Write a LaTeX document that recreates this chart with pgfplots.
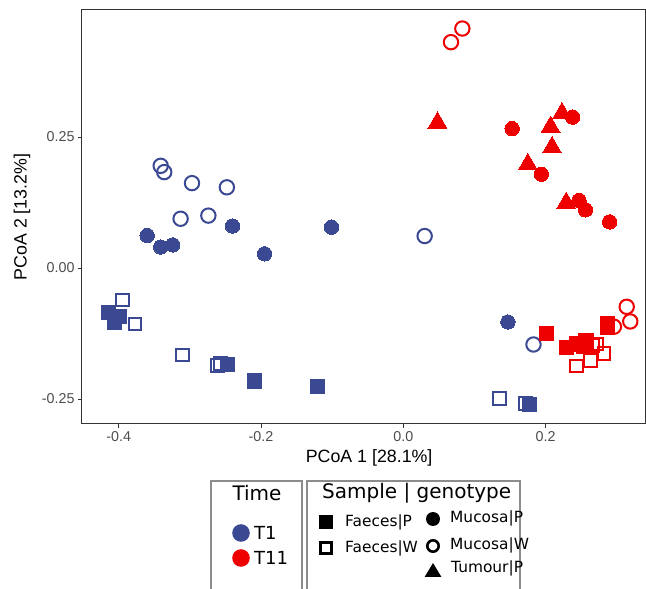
\documentclass[border=0pt]{standalone}
\usepackage{fontspec}
\setmainfont{DejaVu Sans}
\newfontfamily\axisfont{Liberation Sans}
\usepackage{pgfplots}
\pgfplotsset{compat=1.18}
\definecolor{tone}{HTML}{3B4992}
\definecolor{televen}{HTML}{EE0000}
\definecolor{grey20}{HTML}{333333}
\definecolor{grey30}{HTML}{4D4D4D}
\definecolor{legbox}{HTML}{8C8C8C}

\pgfplotsset{
  fsq/.style={only marks, color=#1, mark=square*, mark size=7.2pt, mark options={line width=0pt}},
  osq/.style={only marks, color=#1, mark=square, mark size=6.3pt, mark options={line width=2pt}},
  fci/.style={only marks, color=#1, mark=*, mark size=7.2pt, mark options={line width=0pt}},
  oci/.style={only marks, color=#1, mark=o, mark size=7.2pt, mark options={line width=2pt}},
  ftr/.style={only marks, color=#1, mark=triangle*, mark size=11pt, mark options={line width=0pt}},
}

\begin{document}
\begin{tikzpicture}
\begin{axis}[
  scale only axis, width=563pt, height=414pt,
  xmin=-0.4516, xmax=0.3397, ymin=-0.2977, ymax=0.4924,
  xtick={-0.4,-0.2,0,0.2}, xticklabels={-0.4,-0.2,0.0,0.2},
  ytick={-0.25,0,0.25}, yticklabels={-0.25,0.00,0.25},
  tick align=outside, xtick pos=bottom, ytick pos=left,
  major tick length=4pt,
  axis line style={grey20, line width=1pt},
  tick style={grey20, line width=1pt},
  ticklabel style={font=\axisfont\fontsize{14.3}{17}\selectfont, text=grey30},
  xlabel={PCoA 1 [28.1\%]}, ylabel={PCoA 2 [13.2\%]},
  label style={font=\axisfont\fontsize{17.8}{21}\selectfont},
  xlabel style={at={(axis description cs:0.51,-0.082)}, anchor=center},
  ylabel style={at={(axis description cs:-0.1066,0.5)}, anchor=center},
]
% T1
\addplot[osq=tone] coordinates {(-0.398,-0.092) (0.172,-0.259)};
\addplot[fsq=tone] coordinates {(-0.414,-0.085) (-0.406,-0.104) (-0.401,-0.092)
  (-0.247,-0.184) (-0.209,-0.216) (-0.121,-0.226) (0.177,-0.260)};
\addplot[osq=tone] coordinates {(-0.395,-0.061) (-0.377,-0.107) (-0.310,-0.166)
  (-0.261,-0.186) (-0.257,-0.182) (0.135,-0.249)};
\addplot[fci=tone] coordinates {(-0.360,0.062) (-0.341,0.040) (-0.324,0.044)
  (-0.240,0.080) (-0.195,0.027) (-0.101,0.078) (0.147,-0.103)};
\addplot[oci=tone] coordinates {(-0.341,0.195) (-0.336,0.183) (-0.297,0.162)
  (-0.248,0.154) (-0.313,0.094) (-0.274,0.100) (0.030,0.061) (0.183,-0.146)};
% T11
\addplot[oci=televen] coordinates {(0.083,0.457) (0.067,0.431) (0.314,-0.074)
  (0.319,-0.102) (0.296,-0.112)};
\addplot[osq=televen] coordinates {(0.266,-0.148) (0.282,-0.163) (0.263,-0.176)
  (0.243,-0.187) (0.272,-0.145)};
\addplot[fsq=televen] coordinates {(0.201,-0.125) (0.229,-0.152) (0.244,-0.145)
  (0.257,-0.139) (0.253,-0.150) (0.287,-0.106) (0.287,-0.114)};
\addplot[ftr=televen] coordinates {(0.048,0.277) (0.223,0.295) (0.207,0.269)
  (0.209,0.230) (0.175,0.198) (0.229,0.124)};
\addplot[fci=televen] coordinates {(0.153,0.266) (0.238,0.288) (0.194,0.179)
  (0.247,0.129) (0.256,0.111) (0.290,0.088)};
\end{axis}

% legends, placed in image pixel coordinates
\begin{scope}[x=1pt, y=-1pt, shift={(-82pt,424pt)}]
  \draw[legbox, line width=1.8pt] (210.7,600) |- (302,481) -- (302,600);
  \draw[legbox, line width=1.8pt] (306.7,600) |- (520,481) -- (520,600);
  \node[font=\fontsize{20}{24}\selectfont, inner sep=0pt] at (257,493) {Time};
  \fill[tone] (241,533) circle (8.8pt);
  \fill[televen] (241,558) circle (8.8pt);
  \node[font=\fontsize{18}{22}\selectfont, inner sep=0pt, anchor=west] at (254,533) {T1};
  \node[font=\fontsize{18}{22}\selectfont, inner sep=0pt, anchor=west] at (254,558) {T11};

  \node[font=\fontsize{20}{24}\selectfont, inner sep=0pt, anchor=west] at (322,493) {Sample | genotype};
  \fill (319,515) rectangle (333,529);
  \draw[line width=2.6pt] (320.3,542.3) rectangle (331.7,553.7);
  \fill (433,519) circle (7pt);
  \draw[line width=2.6pt] (433,546) circle (5.7pt);
  \fill (424.6,577) -- (441.4,577) -- (433,563) -- cycle;
  \node[font=\fontsize{15.4}{18}\selectfont, inner sep=0pt, anchor=west] at (345,522) {Faeces|P};
  \node[font=\fontsize{15.4}{18}\selectfont, inner sep=0pt, anchor=west] at (345,548) {Faeces|W};
  \node[font=\fontsize{15.4}{18}\selectfont, inner sep=0pt, anchor=west] at (450,518) {Mucosa|P};
  \node[font=\fontsize{15.4}{18}\selectfont, inner sep=0pt, anchor=west] at (450,545) {Mucosa|W};
  \node[font=\fontsize{15.4}{18}\selectfont, inner sep=0pt, anchor=west] at (451,568) {Tumour|P};
\end{scope}

\pgfresetboundingbox
\path[use as bounding box] (-82pt,-165pt) rectangle (564pt,424pt);
\end{tikzpicture}
\end{document}
